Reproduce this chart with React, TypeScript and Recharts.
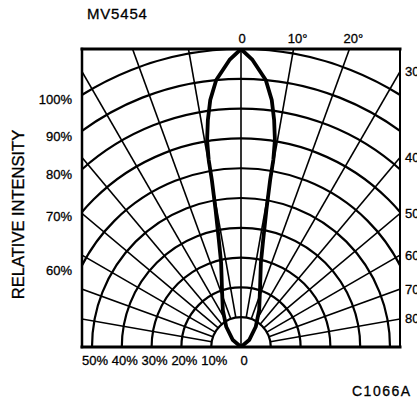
import React from 'react';
import * as RC from 'recharts';

const { LineChart, Line, XAxis, YAxis, Customized } = RC as any;

// ---- data ----
const BEAM_ANGLES = [0, 2.3, 5.3, 7.1, 8.3, 9.3, 9.8, 9.9, 10.5, 11.7, 13.3, 18.4, 26.2, 36.1, 49.5, 90];
const BEAM_INTENSITY = [100, 96.4, 90, 83.5, 77, 70.4, 63.7, 56.9, 46.8, 36.7, 29, 20.2, 13.8, 8.4, 3.6, 0];

const ARC_PERCENTS = [10, 20, 30, 40, 50, 60, 70, 80, 90, 100];
const RADIAL_ANGLES = [-80, -70, -60, -50, -40, -30, -20, -10, 0, 10, 20, 30, 40, 50, 60, 70, 80];
const LEFT_LABEL_PERCENTS = [100, 90, 80, 70, 60];
const BOTTOM_LABEL_PERCENTS = [50, 40, 30, 20, 10, 0];
const TOP_LABEL_ANGLES = [0, 10, 20];
const RIGHT_LABEL_ANGLES = [30, 40, 50, 60, 70, 80];

const TITLE = 'MV5454';
const Y_TITLE = 'RELATIVE INTENSITY';
const CODE = 'C1066A';

// frame half-width in percent units (frame is 318 x 298 px, 100% = 298 px)
const X_HALF = 53.36;

const FONT = '"Liberation Sans", Arial, Helvetica, sans-serif';
const rad = (d: number) => (d * Math.PI) / 180;
const deg = (r: number) => (r * 180) / Math.PI;

const beamRight = BEAM_ANGLES.map((a, i) => ({ a, v: BEAM_INTENSITY[i] }));
const beamFull = [
  ...beamRight.slice().reverse().map((p) => ({ a: -p.a, v: p.v })),
  ...beamRight.slice(1),
];
const beamData = beamFull.map((p) => ({
  x: p.v * Math.sin(rad(p.a)),
  y: p.v * Math.cos(rad(p.a)),
}));

const leftTicks = LEFT_LABEL_PERCENTS.map((p) => Math.sqrt(p * p - X_HALF * X_HALF));
const rightTicks = RIGHT_LABEL_ANGLES.map((a) => X_HALF / Math.tan(rad(a)));
const topTicks = TOP_LABEL_ANGLES.map((a) => 100 * Math.tan(rad(a)));
const bottomTicks = BOTTOM_LABEL_PERCENTS.map((p) => -p);

const W = 417;
const H = 400;
const Y_LEFT_W = 70;
const Y_RIGHT_W = 17;
const X_H = 30;
const MARGIN = { top: 19, right: 0, bottom: 23, left: 12 };

const txt = { fontFamily: FONT, fill: '#000', stroke: '#000', strokeWidth: 0.3 };

const LeftTick = (props: any) => {
  const v = props.payload.value;
  const p = Math.round(Math.sqrt(v * v + X_HALF * X_HALF));
  return (
    <text x={props.x - 10} y={props.y + 5} textAnchor="end" dominantBaseline="central" fontSize={13} {...txt}>
      {`${p}%`}
    </text>
  );
};
const RightTick = (props: any) => {
  const v = props.payload.value;
  const a = Math.round(deg(Math.atan(X_HALF / v)));
  return (
    <text x={props.x + 5} y={props.y} textAnchor="start" dominantBaseline="central" fontSize={13} {...txt}>
      {`${a}°`}
    </text>
  );
};
const TopTick = (props: any) => {
  const v = props.payload.value;
  const a = Math.round(deg(Math.atan(v / 100)));
  return (
    <text x={props.x + (a === 0 ? 1 : 4)} y={props.y - 6} textAnchor="middle" fontSize={13} {...txt}>
      {a === 0 ? '0' : `${a}°`}
    </text>
  );
};
const BottomTick = (props: any) => {
  const v = -props.payload.value;
  return (
    <text x={props.x + 3} y={props.y + 18} textAnchor="middle" fontSize={13} {...txt}>
      {v === 0 ? '0' : `${v}%`}
    </text>
  );
};

function PolarGridLayer() {
  const R: any = RC;
  const pa = R.usePlotArea ? R.usePlotArea() : null;
  const off = R.useOffset ? R.useOffset() : null;
  let px = MARGIN.left + Y_LEFT_W;
  let py = MARGIN.top + X_H;
  let pw = W - MARGIN.left - MARGIN.right - Y_LEFT_W - Y_RIGHT_W;
  let ph = H - MARGIN.top - MARGIN.bottom - 2 * X_H;
  if (pa && pa.width) {
    px = pa.x; py = pa.y; pw = pa.width; ph = pa.height;
  } else if (off && off.left != null) {
    px = off.left; py = off.top; pw = W - off.left - off.right; ph = H - off.top - off.bottom;
  }
  const sx = (v: number) => px + ((v + X_HALF) / (2 * X_HALF)) * pw;
  const sy = (v: number) => py + ph - (v / 100) * ph;
  const cx = sx(0);
  const cy = sy(0);
  const k = ph / 100;

  return (
    <g>
      <defs>
        <clipPath id="polarClip">
          <rect x={px} y={py} width={pw} height={ph} />
        </clipPath>
      </defs>
      <g clipPath="url(#polarClip)" fill="none" stroke="#000">
        {ARC_PERCENTS.map((p) => {
          const r = p * k;
          return (
            <path key={'a' + p} d={`M ${cx - r} ${cy} A ${r} ${r} 0 0 1 ${cx + r} ${cy}`} strokeWidth={2.2} />
          );
        })}
        {RADIAL_ANGLES.map((a) => {
          const r0 = a === 0 ? 0 : 10;
          const r1 = 130;
          return (
            <line
              key={'r' + a}
              x1={sx(r0 * Math.sin(rad(a)))}
              y1={sy(r0 * Math.cos(rad(a)))}
              x2={sx(r1 * Math.sin(rad(a)))}
              y2={sy(r1 * Math.cos(rad(a)))}
              strokeWidth={1.6}
            />
          );
        })}
      </g>
      <g stroke="#000" strokeLinecap="square">
        <line x1={px} y1={py} x2={px + pw} y2={py} strokeWidth={3} />
        <line x1={px} y1={py} x2={px} y2={py + ph} strokeWidth={2.5} />
        <line x1={px} y1={py + ph} x2={px + pw} y2={py + ph} strokeWidth={3} />
        <line x1={px + pw} y1={py} x2={px + pw} y2={py + ph} strokeWidth={2} />
      </g>
      <text x={87} y={18.5} fontSize={15} letterSpacing={0.8} {...txt}>{TITLE}</text>
      <text
        transform="translate(18, 214.5) rotate(-90)"
        textAnchor="middle"
        dominantBaseline="central"
        fontSize={16.5}
        {...txt}
      >
        {Y_TITLE}
      </text>
      <text x={352} y={396} fontSize={14} letterSpacing={1.5} {...txt}>{CODE}</text>
    </g>
  );
}

export default function App() {
  return (
    <div style={{ position: 'absolute', left: 0, top: 0, width: W, height: H, background: '#fff' }}>
      <LineChart width={W} height={H} data={beamData} margin={MARGIN}>
        <XAxis
          xAxisId="bottom"
          orientation="bottom"
          type="number"
          dataKey="x"
          domain={[-X_HALF, X_HALF]}
          allowDataOverflow
          ticks={bottomTicks}
          interval={0}
          axisLine={false}
          tickLine={false}
          tickSize={0}
          tickMargin={0}
          height={X_H}
          tick={<BottomTick />}
        />
        <XAxis
          xAxisId="top"
          orientation="top"
          type="number"
          dataKey="x"
          domain={[-X_HALF, X_HALF]}
          allowDataOverflow
          ticks={topTicks}
          interval={0}
          axisLine={false}
          tickLine={false}
          tickSize={0}
          tickMargin={0}
          height={X_H}
          tick={<TopTick />}
        />
        <YAxis
          yAxisId="left"
          type="number"
          domain={[0, 100]}
          allowDataOverflow
          ticks={leftTicks}
          interval={0}
          axisLine={false}
          tickLine={false}
          tickSize={0}
          tickMargin={0}
          width={Y_LEFT_W}
          tick={<LeftTick />}
        />
        <YAxis
          yAxisId="right"
          orientation="right"
          type="number"
          domain={[0, 100]}
          allowDataOverflow
          ticks={rightTicks}
          interval={0}
          axisLine={false}
          tickLine={false}
          tickSize={0}
          tickMargin={0}
          width={Y_RIGHT_W}
          tick={<RightTick />}
        />
        <Customized component={<PolarGridLayer />} />
        <Line
          xAxisId="top"
          yAxisId="right"
          dataKey="y"
          type="linear"
          stroke="none"
          dot={false}
          activeDot={false}
          isAnimationActive={false}
        />
        <Line
          xAxisId="bottom"
          yAxisId="left"
          dataKey="y"
          type="linear"
          stroke="#000"
          strokeWidth={3.8}
          strokeLinejoin="round"
          dot={false}
          isAnimationActive={false}
        />
      </LineChart>
    </div>
  );
}
